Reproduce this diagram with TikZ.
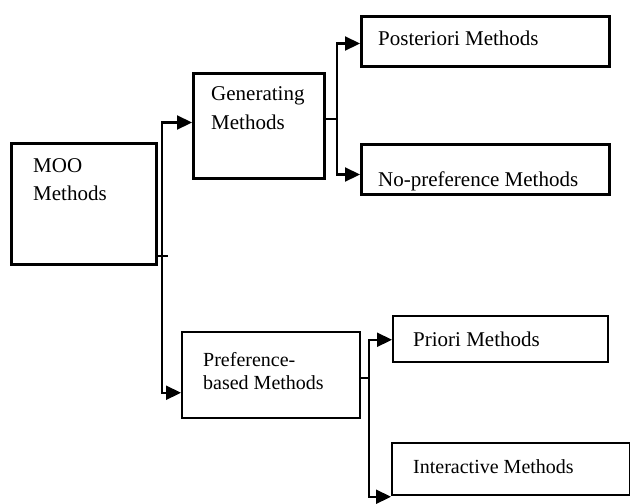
\documentclass[tikz,border=0pt]{standalone}
\usepackage{fontspec}
\setmainfont{Liberation Serif}
\usetikzlibrary{arrows.meta}
\begin{document}
\begin{tikzpicture}[x=1pt,y=-1pt,
  thickbox/.style={draw=black,line width=3pt,inner sep=0pt,anchor=north west},
  thinbox/.style={draw=black,line width=1.5pt,inner sep=0pt,anchor=north west},
  txt/.style={anchor=base west,inner sep=0pt,font=\fontsize{21}{28}\selectfont},
  txts/.style={anchor=base west,inner sep=0pt,font=\fontsize{20}{23}\selectfont},
  conn/.style={draw=black,line width=2.2pt,-{Triangle[length=15pt,width=14pt]}},
  line/.style={draw=black,line width=2.2pt}]
\useasboundingbox (0,0) rectangle (630,504);
% boxes
\node[thickbox,minimum width=145,minimum height=121] (moo) at (10,142) {};
\node[thickbox,minimum width=131,minimum height=105] (gen) at (192,72) {};
\node[thickbox,minimum width=248,minimum height=50] (post) at (360,15) {};
\node[thickbox,minimum width=248,minimum height=50] (nopref) at (360,143) {};
\node[thinbox,minimum width=178,minimum height=86] (pref) at (181,331) {};
\node[thinbox,minimum width=215,minimum height=46] (priori) at (392,315) {};
\node[thinbox,minimum width=238,minimum height=52] (inter) at (391,442) {};
% texts
\node[txt] (tmoo1) at (33,172) {MOO};
\node[txt] (tmoo2) at (33,200) {Methods};
\node[txt] (tgen1) at (211,100) {Generating};
\node[txt] (tgen2) at (211,129) {Methods};
\node[txt] (tpost) at (378,45) {Posteriori Methods};
\node[txt] (tnopref) at (378,186) {No-preference Methods};
\node[txts] (tpref1) at (203,366) {Preference-};
\node[txts] (tpref2) at (203,389) {based Methods};
\node[txt] (tpriori) at (413,346) {Priori Methods};
\node[txts] (tinter) at (413,473) {Interactive Methods};
% junctions
\coordinate (j1) at (162,256);
\coordinate (j1e) at (168,256);
\coordinate (j2) at (337,119);
\coordinate (j3) at (369,378);
% connectors from MOO
\draw[line] (moo.east |- j1) -- (j1e);
\draw[conn] (j1) |- ([yshift=3.5]gen.west);
\draw[conn] (j1) |- ([yshift=-18]pref.west);
% from Generating
\draw[line] (gen.east |- j2) -- (j2);
\draw[conn] (j2) |- ([yshift=-2]post.west);
\draw[conn] (j2) |- ([yshift=-5]nopref.west);
% from Preference-based
\draw[line] (pref.east |- j3) -- (j3);
\draw[conn] (j3) |- ([yshift=-1]priori.west);
\draw[conn] (j3) |- ([yshift=-28]inter.west);
\end{tikzpicture}
\end{document}
